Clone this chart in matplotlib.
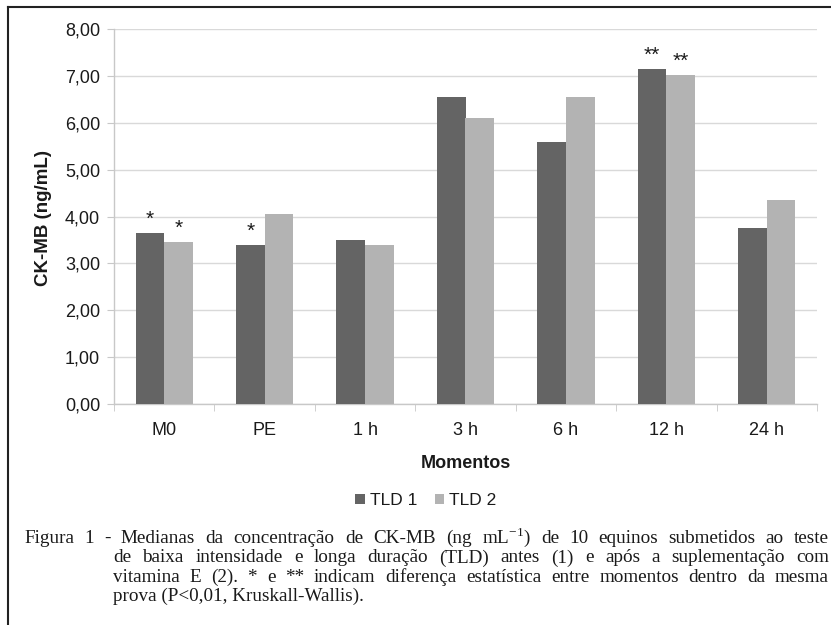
import matplotlib
matplotlib.use('Agg')
import matplotlib.pyplot as plt
import numpy as np
from matplotlib.patches import Patch
from matplotlib.lines import Line2D
from matplotlib.ticker import FixedLocator, FuncFormatter

# data
momentos = ['M0', 'PE', '1 h', '3 h', '6 h', '12 h', '24 h']
tld1 = [3.65, 3.40, 3.50, 6.55, 5.60, 7.15, 3.75]
tld2 = [3.45, 4.05, 3.40, 6.10, 6.55, 7.02, 4.35]
marks1 = ['*', '*', '', '', '', '**', '']
marks2 = ['*', '', '', '', '', '**', '']

caption = [
    'Figura 1 - Medianas da concentração de CK-MB (ng mL$^{\\mathregular{-1}}$) de 10 equinos submetidos ao teste',
    'de baixa intensidade e longa duração (TLD) antes (1) e após a suplementação com',
    'vitamina E (2). * e ** indicam diferença estatística entre momentos dentro da mesma',
    'prova (P<0,01, Kruskall-Wallis).',
]

plt.rcParams['font.family'] = ['Liberation Sans', 'DejaVu Sans']
plt.rcParams['mathtext.fontset'] = 'custom'
plt.rcParams['mathtext.rm'] = 'Liberation Serif'

W, H = 831, 625
fig = plt.figure(figsize=(W / 100, H / 100), dpi=100)
ax = fig.add_axes([114 / W, 1 - 404 / H, 703 / W, 375 / H])

c1 = '#646464'
c2 = '#b3b3b3'
grid_c = '#d9d9d9'
txt_c = '#1a1a1a'
x = np.arange(len(momentos))
bw = 0.285
ax.bar(x - bw / 2, tld1, bw, color=c1, zorder=3)
ax.bar(x + bw / 2, tld2, bw, color=c2, zorder=3)

for i in range(len(momentos)):
    if marks1[i]:
        ax.annotate(marks1[i], (x[i] - bw / 2, tld1[i]), xytext=(0, 3), textcoords='offset points',
                    ha='center', va='bottom', fontsize=15, color=txt_c)
    if marks2[i]:
        ax.annotate(marks2[i], (x[i] + bw / 2, tld2[i]), xytext=(0, 3), textcoords='offset points',
                    ha='center', va='bottom', fontsize=15, color=txt_c)

ax.set_xlim(-0.5, len(momentos) - 0.5)
ax.set_ylim(0, 8)
ax.set_yticks(np.arange(0, 9, 1))
ax.yaxis.set_major_formatter(FuncFormatter(lambda v, p: f'{v:.2f}'.replace('.', ',')))
ax.set_xticks(x)
ax.set_xticklabels(momentos)
ax.xaxis.set_minor_locator(FixedLocator(np.arange(-0.5, len(momentos), 1)))
ax.grid(axis='y', color=grid_c, lw=1, zorder=0)

for s in ['top', 'right']:
    ax.spines[s].set_visible(False)
for s in ['left', 'bottom']:
    ax.spines[s].set_color('#c8c8c8')
    ax.spines[s].set_linewidth(1)
ax.tick_params(axis='y', length=5, color='#c8c8c8', labelsize=13, pad=5, labelcolor=txt_c)
ax.tick_params(axis='x', which='major', length=0, labelsize=13, pad=13, labelcolor=txt_c)
ax.tick_params(axis='x', which='minor', length=5, color='#c8c8c8')

fig.text(43 / W, 1 - 218 / H, 'CK-MB (ng/mL)', rotation=90, ha='center', va='center',
         fontsize=13.5, fontweight='bold', color=txt_c)
fig.text(465.5 / W, 1 - 463 / H, 'Momentos', ha='center', va='center',
         fontsize=13, fontweight='bold', color=txt_c)

handles = [Patch(facecolor=c1, label='TLD 1'), Patch(facecolor=c2, label='TLD 2')]
fig.legend(handles=handles, loc='center', bbox_to_anchor=(426 / W, 1 - 500.7 / H), ncol=2,
           frameon=False, fontsize=12.5, handlelength=0.55, handleheight=0.55,
           handletextpad=0.3, columnspacing=1.0, labelcolor=txt_c)

# frame lines (top and left)
fig.add_artist(Line2D([8 / W, 1], [1 - 6.5 / H, 1 - 6.5 / H], color='#222222', lw=1.5))
fig.add_artist(Line2D([8 / W, 8 / W], [1 - 6.5 / H, 0], color='#222222', lw=1.5))

# justified caption
renderer = fig.canvas.get_renderer()
left0, left1, right_edge = 24, 113, 829
cap_kw = dict(fontsize=13.8, family='Liberation Serif', color=txt_c, va='baseline', ha='left')
baselines = [543, 562.5, 581.7, 600.8]
starts = [left0, left1, left1, left1]
for k, line in enumerate(caption):
    words = line.split(' ')
    y = 1 - baselines[k] / H
    if k == len(caption) - 1:
        fig.text(starts[k] / W, y, line, **cap_kw)
        continue
    texts = [fig.text(0, y, w, **cap_kw) for w in words]
    widths = [t.get_window_extent(renderer).width for t in texts]
    gap = (right_edge - starts[k] - sum(widths)) / (len(words) - 1)
    pos = starts[k]
    for t, wd in zip(texts, widths):
        t.set_x(pos / W)
        pos += wd + gap

fig.savefig('out.png', dpi=100)
